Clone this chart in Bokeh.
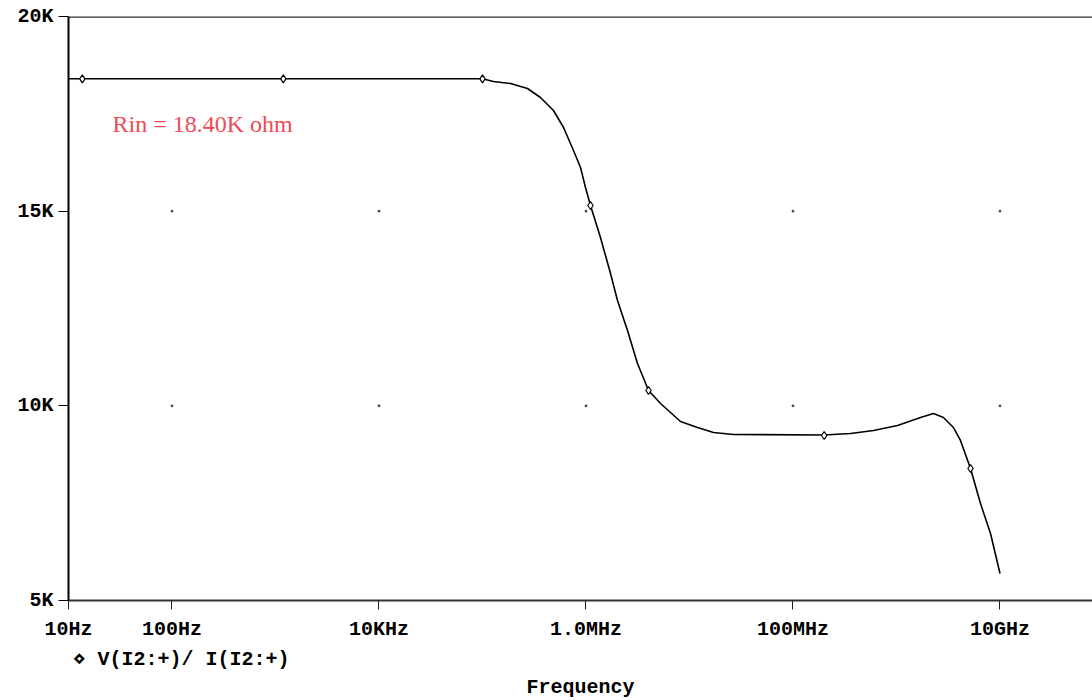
from bokeh.plotting import figure
from bokeh.models import Span, Label, FixedTicker, Title
from bokeh.embed import file_html
from bokeh.resources import INLINE

# ---- data ----
freq_hz = [10, 1.0e5, 1.276e5, 1.866e5, 2.72e5, 3.63e5, 4.85e5, 6.07e5, 7.57e5, 8.85e5,
           9.89e5, 1.105e6, 1.38e6, 1.725e6, 2.015e6, 2.517e6, 3.145e6, 4.02e6, 5.25e6,
           8.19e6, 1.195e7, 1.706e7, 2.66e7, 1.97e8, 3.6e8, 6.0e8, 1.023e9, 1.707e9,
           2.277e9, 2.84e9, 3.55e9, 4.15e9, 5.19e9, 6.48e9, 8.1e9, 1.0e10]
rin_ohm = [18400, 18400, 18330, 18279, 18151, 17920, 17586, 17149, 16558, 16122,
           15608, 15146, 14324, 13399, 12705, 11935, 11087, 10394, 10060,
           9598, 9443, 9315, 9264, 9250, 9289, 9366, 9495, 9700,
           9803, 9700, 9443, 9110, 8390, 7491, 6720, 5693]

marker_freq = [13.6, 1.19e3, 1.0e5, 1.105e6, 4.02e6, 2.0e8, 5.19e9]
marker_rin = [18400, 18400, 18400, 15146, 10394, 9238, 8390]

x_ticks = [10, 1e2, 1e4, 1e6, 1e8, 1e10]
x_tick_labels = ["10Hz", "100Hz", "10KHz", "1.0MHz", "100MHz", "10GHz"]
y_ticks = [5000, 10000, 15000, 20000]
y_tick_labels = ["5K", "10K", "15K", "20K"]

trace_name = "V(I2:+)/ I(I2:+)"
annotation = "Rin = 18.40K ohm"
x_title = "Frequency"

FONT = "Liberation Mono"
FSIZE = "20px"

p = figure(width=1092, height=700, x_axis_type="log",
           x_range=(10, 7.83e10), y_range=(5000, 20000),
           output_backend="svg", toolbar_location=None,
           min_border_left=68, min_border_right=0, min_border_top=16,
           min_border_bottom=100)
p.outline_line_color = None
p.background_fill_color = "white"
p.border_fill_color = "white"
p.xgrid.visible = False
p.ygrid.visible = False

# axes
xa = p.xaxis[0]
xa.ticker = FixedTicker(ticks=x_ticks)
xa.major_label_overrides = {t: l for t, l in zip(x_ticks, x_tick_labels)}
xa.minor_tick_line_color = None
xa.major_tick_in = 0
xa.major_tick_out = 9
xa.major_tick_line_color = "#222222"
xa.major_tick_line_width = 1
xa.axis_line_color = "#333333"
xa.axis_line_width = 2
xa.major_label_standoff = 8
xa.major_label_text_font = FONT
xa.major_label_text_font_style = "bold"
xa.major_label_text_font_size = FSIZE
xa.major_label_text_color = "black"

ya = p.yaxis[0]
ya.ticker = FixedTicker(ticks=y_ticks)
ya.major_label_overrides = {t: l for t, l in zip(y_ticks, y_tick_labels)}
ya.minor_tick_line_color = None
ya.major_tick_in = 0
ya.major_tick_out = 10
ya.major_tick_line_color = "black"
ya.major_tick_line_width = 1
ya.axis_line_color = "black"
ya.axis_line_width = 2
ya.major_label_standoff = 5
ya.major_label_text_font = FONT
ya.major_label_text_font_style = "bold"
ya.major_label_text_font_size = FSIZE
ya.major_label_text_color = "black"

# top border line
p.add_layout(Span(location=y_ticks[-1], dimension="width",
                  line_color="#333333", line_width=2.5))

# dotted grid points at decade/level intersections
gx, gy = [], []
for xv in x_ticks[1:]:
    for yv in y_ticks[1:-1]:
        gx.append(xv)
        gy.append(yv)
p.scatter(gx, gy, marker="square", size=1.6, color="#444444")

# trace
p.line(freq_hz, rin_ohm, line_color="black", line_width=1.6)
p.scatter(marker_freq, marker_rin, marker="diamond", size=8,
          fill_color="white", line_color="black", line_width=1.2)

# annotation
p.add_layout(Label(x=44, y=477, x_units="screen", y_units="screen",
                   text=annotation, text_font="Liberation Serif",
                   text_font_size="24px", text_color="#f04a55",
                   text_baseline="alphabetic", text_align="left"))

# legend entry below the axis
p.add_layout(Title(text="\u22c4 " + trace_name, align="left", offset=4,
                   text_font=FONT, text_font_style="bold",
                   text_font_size=FSIZE, text_color="black",
                   standoff=4), "below")

# x-axis title
p.add_layout(Title(text=x_title, align="center", text_font=FONT,
                   text_font_style="bold", text_font_size=FSIZE,
                   text_color="black", standoff=2), "below")

open("out.html", "w").write(file_html(p, INLINE))
